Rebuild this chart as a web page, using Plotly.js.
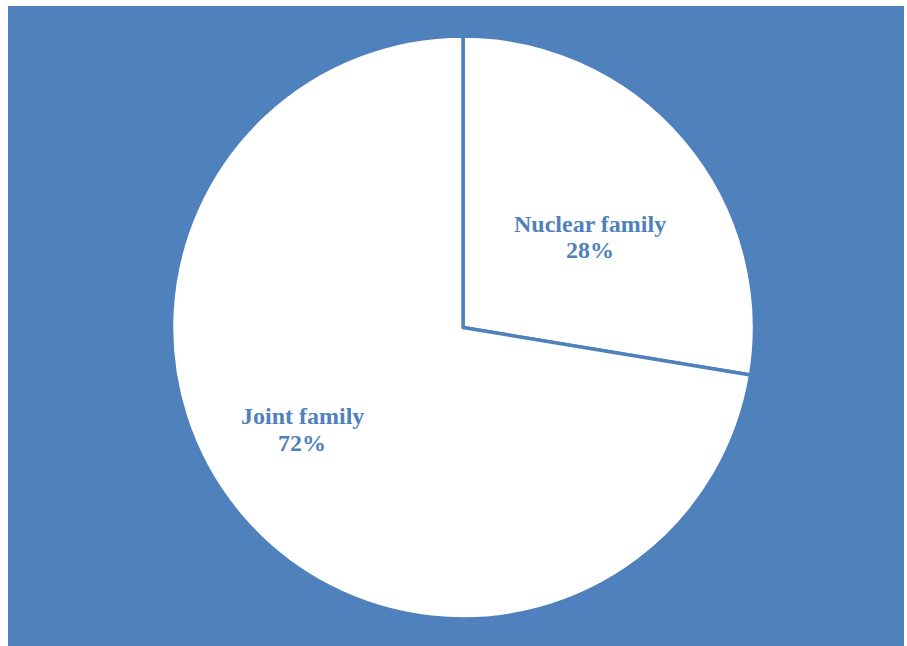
<!DOCTYPE html>
<html>
<head>
<meta charset="utf-8">
<script src="https://cdn.plot.ly/plotly-3.0.1.min.js"></script>
<style>html,body{margin:0;padding:0;background:#fff;}#chart{width:907px;height:646px;}</style>
</head>
<body>
<div id="chart"></div>
<script>
const labels = ["Nuclear family", "Joint family"];
const values = [27.6, 72.4];
const sliceColors = ["#ffffff", "#ffffff"];

const W = 907, H = 646;
const blue = "#4F81BD";
const cx = 463, cy = 327.5, R = 291.5;
// label positions in pixels (centre x, y of name line, y of percent line)
const labelPos = [[590, 224, 250], [302, 416, 443]];

const total = values.reduce((a, b) => a + b, 0);

const trace = {
  type: "pie",
  labels: labels,
  values: values,
  sort: false,
  direction: "clockwise",
  rotation: 0,
  marker: {colors: sliceColors, line: {color: blue, width: 3.5}},
  textinfo: "none",
  hoverinfo: "none",
  showlegend: false,
  domain: {x: [(cx - R) / W, (cx + R) / W], y: [(H - (cy + R)) / H, (H - (cy - R)) / H]}
};

const font = {family: "Liberation Serif, Times New Roman, serif", size: 24, color: blue, weight: "bold"};
const annotations = [];
labels.forEach((lab, i) => {
  const p = labelPos[i];
  annotations.push({xref: "paper", yref: "paper", x: p[0] / W, y: 1 - p[1] / H,
    xanchor: "center", yanchor: "middle", showarrow: false, text: "<b>" + lab + "</b>", font: font});
  annotations.push({xref: "paper", yref: "paper", x: p[0] / W, y: 1 - p[2] / H,
    xanchor: "center", yanchor: "middle", showarrow: false,
    text: "<b>" + Math.round(values[i] / total * 100) + "%</b>", font: font});
});

const layout = {
  width: W, height: H,
  margin: {l: 0, r: 0, t: 0, b: 0},
  paper_bgcolor: "#ffffff",
  showlegend: false,
  annotations: annotations,
  shapes: [{
    type: "rect", xref: "paper", yref: "paper", layer: "below",
    x0: 8 / W, x1: 904 / W, y0: 0, y1: 1 - 6 / H,
    fillcolor: blue, line: {width: 0}
  }]
};

Plotly.newPlot("chart", [trace], layout, {displayModeBar: false, staticPlot: true});
</script>
</body>
</html>
